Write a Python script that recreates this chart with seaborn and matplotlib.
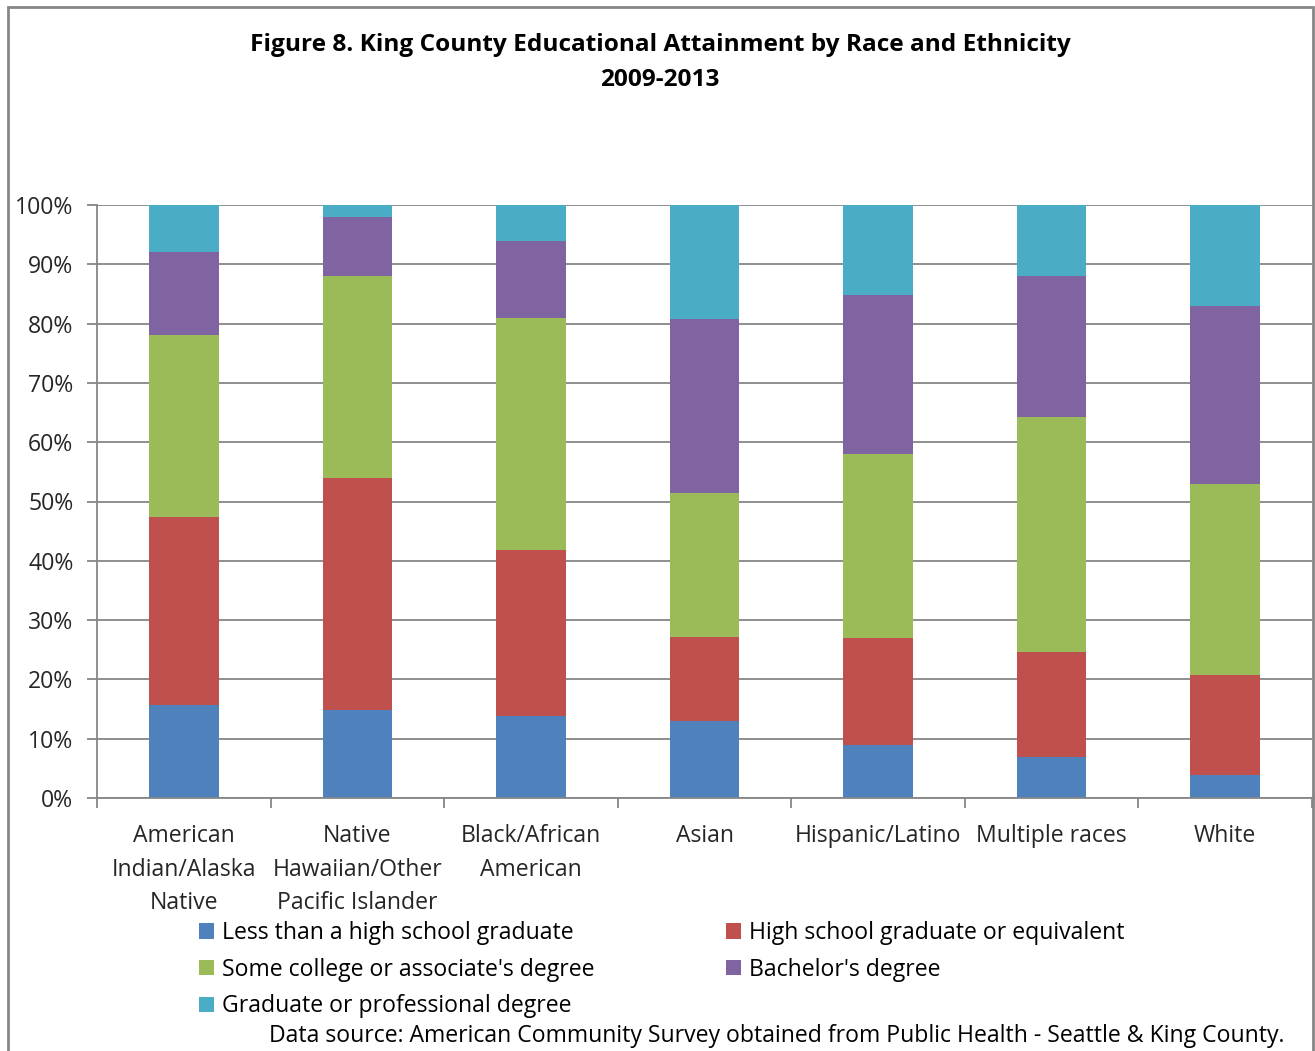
import matplotlib
matplotlib.use("Agg")
import matplotlib.pyplot as plt
from matplotlib.patches import Patch, Rectangle
import numpy as np
import pandas as pd
import seaborn as sns

# ---- data (percent of adults 25+, by race/ethnicity) ----
groups = [
    "American\nIndian/Alaska\nNative",
    "Native\nHawaiian/Other\nPacific Islander",
    "Black/African\nAmerican",
    "Asian",
    "Hispanic/Latino",
    "Multiple races",
    "White",
]
levels = [
    "Less than a high school graduate",
    "High school graduate or equivalent",
    "Some college or associate's degree",
    "Bachelor's degree",
    "Graduate or professional degree",
]
less_than_hs = [15.7, 14.9, 13.9, 13.0, 8.9, 6.9, 3.9]
hs_grad = [31.7, 39.0, 28.0, 14.1, 18.0, 17.8, 16.9]
some_college = [30.7, 34.1, 39.0, 24.4, 31.1, 39.6, 32.1]
bachelors = [13.9, 10.0, 13.0, 29.2, 26.9, 23.8, 30.0]
graduate = [8.0, 2.0, 6.1, 19.3, 15.1, 11.9, 17.1]
colors = ["#4F81BD", "#C0504D", "#9BBB59", "#8064A2", "#4BACC6"]
yticks = [0, 10, 20, 30, 40, 50, 60, 70, 80, 90, 100]

df = pd.DataFrame(
    {
        "group": groups,
        levels[0]: less_than_hs,
        levels[1]: hs_grad,
        levels[2]: some_college,
        levels[3]: bachelors,
        levels[4]: graduate,
    }
)
cum = df[levels].cumsum(axis=1)
cum["group"] = df["group"]

sns.set_theme(style="white")
plt.rcParams["font.family"] = ["Open Sans", "DejaVu Sans"]
plt.rcParams["text.color"] = "black"

FS = 16.6
TFS = 17.6

W, H = 1315, 1051
fig = plt.figure(figsize=(W / 100, H / 100), dpi=100)
ax = fig.add_axes([97 / W, 1 - 798 / H, (1312 - 97) / W, (798 - 205) / H])

grid_c = "#868686"
for yv in yticks:
    ax.axhline(yv, color=grid_c, lw=1.3, zorder=0)

# stacked bars: draw cumulative tops from the highest layer down
for lvl, c in reversed(list(zip(levels, colors))):
    sns.barplot(data=cum, x="group", y=lvl, color=c, width=0.4,
                saturation=1, ax=ax, zorder=2, linewidth=0)

ax.set_xlim(-0.5, len(groups) - 0.5)
ax.set_ylim(0, 100)
ax.set_xlabel("")
ax.set_ylabel("")

ax.set_yticks(yticks)
ax.set_yticklabels([f"{v}%" for v in yticks], fontsize=FS)
ax.tick_params(axis="y", left=True, length=7, width=1.3, color=grid_c, pad=10)

ax.set_xticks(range(len(groups)))
ax.set_xticklabels(groups, fontsize=FS, linespacing=1.52, va="top")
ax.tick_params(axis="x", which="major", bottom=False, pad=13)
ax.set_xticks(np.arange(-0.5, len(groups) + 0.5, 1), minor=True)
ax.tick_params(axis="x", which="minor", bottom=True, length=7, width=1.3, color=grid_c)

for s in ["top", "right"]:
    ax.spines[s].set_visible(False)
for s in ["left", "bottom"]:
    ax.spines[s].set_color(grid_c)
    ax.spines[s].set_linewidth(1.3)

# title
fig.text(660 / W, 1 - 45 / H, "Figure 8. King County Educational Attainment by Race and Ethnicity",
         ha="center", va="center", fontsize=TFS, fontweight="bold")
fig.text(660 / W, 1 - 80 / H, "2009-2013", ha="center", va="center",
         fontsize=TFS, fontweight="bold")

# legend, laid out row by row in two columns
handles = [Patch(facecolor=c, edgecolor="none", label=l) for l, c in zip(levels, colors)]
order = [0, 2, 4, 1, 3]
fig.legend([handles[i] for i in order], [levels[i] for i in order],
           loc="upper left", bbox_to_anchor=(199 / W, 1 - 921 / H), ncol=2,
           frameon=False, fontsize=FS, handlelength=0.65, handleheight=0.65,
           handletextpad=0.35, columnspacing=5.7, labelspacing=0.55, borderpad=0,
           borderaxespad=0)

fig.text(777 / W, 1 - 1036 / H,
         "Data source: American Community Survey obtained from Public Health - Seattle & King County.",
         ha="center", va="center", fontsize=FS)

# outer chart border
fig.patches.append(Rectangle((8 / W, -0.01), (1313 - 8) / W, (1 - 7 / H) + 0.01,
                             transform=fig.transFigure, fill=False,
                             edgecolor=grid_c, lw=2))

fig.savefig("out.png", dpi=100)
